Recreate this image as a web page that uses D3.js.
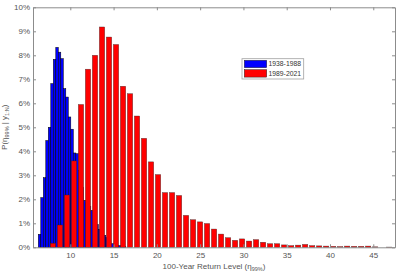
<!DOCTYPE html>
<html>
<head>
<meta charset="utf-8">
<script src="https://cdn.jsdelivr.net/npm/d3@7"></script>
<style>
  body { margin: 0; background: #fff; }
  svg { display: block; font-family: "Liberation Sans", Arial, sans-serif; }
</style>
</head>
<body>
<svg id="chart" width="416" height="278"></svg>
<script>
// histogram heights in percent
const blueCenter0 = 6.445;
const blueStep = 0.289;
const blueValues = [0.54, 2.07, 2.9, 4.45, 5.0, 6.82, 7.83, 8.33, 8.13, 7.86,
  6.61, 6.26, 5.43, 4.92, 3.93, 3.9, 3.2, 2.5, 1.96, 1.85,
  1.7, 1.54, 1.2, 0.95, 0.75, 0.6, 0.5, 0.4, 0.25, 0.15,
  0.12, 0.09, 0.07, 0.04, 0.03];

const redCenter0 = 8.0;
const redStep = 0.809;
const redValues = [0.17, 0.93, 2.18, 3.6, 5.95, 7.42, 8.0, 9.18, 8.76, 8.45,
  6.71, 6.4, 5.47, 4.54, 3.56, 3.03, 2.28, 2.28, 2.16, 1.33,
  1.15, 1.06, 0.99, 0.76, 0.55, 0.4, 0.29, 0.35, 0.26, 0.32,
  0.21, 0.15, 0.15, 0.1, 0.07, 0.09, 0.12, 0.07, 0.06, 0.05,
  0.04, 0.03, 0.05, 0.04, 0.04, 0.05, 0.02, 0, 0.01];

const xTicks = [10, 15, 20, 25, 30, 35, 40, 45];
const yTicks = [0, 1, 2, 3, 4, 5, 6, 7, 8, 9, 10];
const seriesNames = ["1938-1988", "1989-2021"];
const seriesColors = ["#0000ff", "#ff0000"];

const svg = d3.select("#chart");
const plotL = 33, plotR = 395, plotT = 7.3, plotB = 247.3;

const x = d3.scaleLinear().domain([5.69, 47.51]).range([plotL, plotR]);
const y = d3.scaleLinear().domain([0, 10]).range([plotB, plotT]);

const axisColor = "#8c8c8c";
const textColor = "#555";

/*
 * bars
 */
const blueW = x(blueStep) - x(0);
svg.append("g")
  .selectAll("rect")
  .data(blueValues)
  .join("rect")
  .attr("x", (d, i) => x(blueCenter0 + i * blueStep) - blueW / 2)
  .attr("y", d => y(d))
  .attr("width", blueW)
  .attr("height", d => plotB - y(d))
  .attr("fill", seriesColors[0])
  .attr("stroke", "#000")
  .attr("stroke-width", 0.5);

const redW = (x(redStep) - x(0)) * 0.76;
svg.append("g")
  .selectAll("rect")
  .data(redValues)
  .join("rect")
  .attr("x", (d, i) => x(redCenter0 + i * redStep) - redW / 2)
  .attr("y", d => y(d))
  .attr("width", redW)
  .attr("height", d => plotB - y(d))
  .attr("fill", seriesColors[1])
  .attr("stroke", "#222")
  .attr("stroke-opacity", 0.7)
  .attr("stroke-width", 0.5);

/*
 * axes (box with inward ticks on all sides)
 */
function styleAxis(g) {
  g.selectAll("path").attr("stroke", axisColor);
  g.selectAll("line").attr("stroke", axisColor);
  g.selectAll("text")
    .attr("fill", textColor)
    .attr("font-size", "8px")
    .attr("font-family", "Liberation Sans, Arial, sans-serif");
}

svg.append("g")
  .attr("transform", `translate(0,${plotB})`)
  .call(d3.axisBottom(x).tickValues(xTicks).tickSize(-3).tickSizeOuter(0).tickPadding(5))
  .call(styleAxis);

svg.append("g")
  .attr("transform", `translate(0,${plotT})`)
  .call(d3.axisTop(x).tickValues(xTicks).tickSize(-3).tickSizeOuter(0).tickFormat(""))
  .call(styleAxis);

svg.append("g")
  .attr("transform", `translate(${plotL},0)`)
  .call(d3.axisLeft(y).tickValues(yTicks).tickSize(-3).tickSizeOuter(0).tickPadding(3)
    .tickFormat(d => d + "%"))
  .call(styleAxis);

svg.append("g")
  .attr("transform", `translate(${plotR},0)`)
  .call(d3.axisRight(y).tickValues(yTicks).tickSize(-3).tickSizeOuter(0).tickFormat(""))
  .call(styleAxis);

// axis labels
const xLabel = svg.append("text")
  .attr("x", (plotL + plotR) / 2)
  .attr("y", 269)
  .attr("text-anchor", "middle")
  .attr("font-size", "8px")
  .attr("fill", textColor);
xLabel.append("tspan").text("100-Year Return Level (η");
xLabel.append("tspan").attr("font-size", "5.5px").attr("dy", 2).text("99%");
xLabel.append("tspan").attr("dy", -2).text(")");

const yLabel = svg.append("text")
  .attr("transform", `translate(7,${(plotT + plotB) / 2}) rotate(-90)`)
  .attr("text-anchor", "middle")
  .attr("font-size", "8px")
  .attr("fill", textColor);
yLabel.append("tspan").text("P(η");
yLabel.append("tspan").attr("font-size", "5.5px").attr("dy", 2).text("99%");
yLabel.append("tspan").attr("dy", -2).text(" | y");
yLabel.append("tspan").attr("font-size", "5.5px").attr("dy", 2).text("1:N");
yLabel.append("tspan").attr("dy", -2).text(")");

/*
 * legend
 */
const legend = svg.append("g");
legend.append("rect")
  .attr("x", 242)
  .attr("y", 58.7)
  .attr("width", 61.7)
  .attr("height", 20.3)
  .attr("fill", "#fff")
  .attr("stroke", "#a0a0a0")
  .attr("stroke-width", 0.8);

seriesNames.forEach((name, i) => {
  legend.append("rect")
    .attr("x", 244.3)
    .attr("y", 60.3 + i * 9.4)
    .attr("width", 22.4)
    .attr("height", 7.4)
    .attr("fill", seriesColors[i])
    .attr("stroke", "#222")
    .attr("stroke-width", 0.5);
  legend.append("text")
    .attr("x", 268.5)
    .attr("y", 66.3 + i * 9.4)
    .attr("font-size", "6.8px")
    .attr("fill", "#333")
    .text(name);
});
</script>
</body>
</html>
